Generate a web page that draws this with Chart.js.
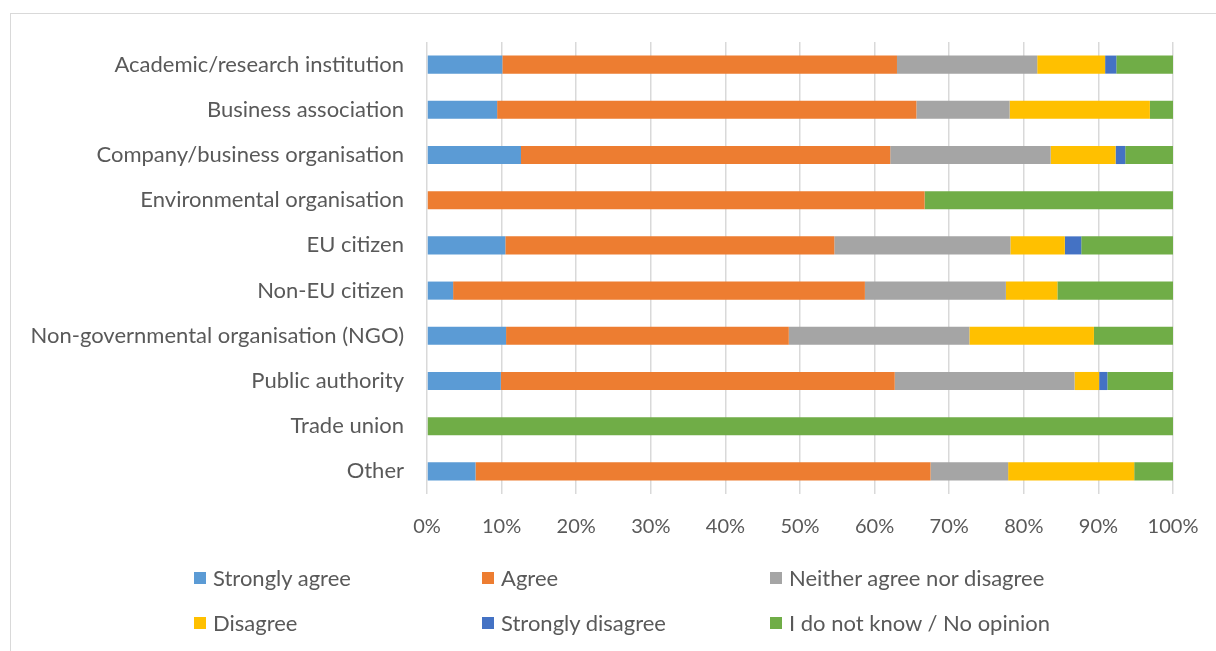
<!DOCTYPE html>
<html>
<head>
<meta charset="utf-8">
<script src="https://cdn.jsdelivr.net/npm/chart.js@4"></script>
<style>
  body { margin: 0; background: #fff; font-family: Lato, sans-serif; }
  #frame { position: absolute; left: 10px; top: 13px; width: 1220px; height: 700px; border: 1.5px solid #d9d9d9; }
  #wrap { position: absolute; left: 0; top: 0; width: 1216px; height: 651px; }
  #legend { position: absolute; left: 194px; top: 564px; width: 900px; }
  .item { position: absolute; display: flex; align-items: center; font-size: 22px; color: #595959; white-space: nowrap; }
  .box { width: 12px; height: 12px; margin-right: 7px; }
</style>
</head>
<body>
<div id="frame"></div>
<div id="wrap"><canvas id="myChart" width="1216" height="651"></canvas></div>
<div id="legend"></div>
<script>
var categories = ['Academic/research institution', 'Business association', 'Company/business organisation',
    'Environmental organisation', 'EU citizen', 'Non-EU citizen', 'Non-governmental organisation (NGO)',
    'Public authority', 'Trade union', 'Other'];

// shares in %, one value per category
var stronglyAgree    = [10.1,  9.4, 12.6,  0.0, 10.5,  3.5, 10.6,  9.9, 0,  6.5];
var agree            = [52.9, 56.2, 49.5, 66.7, 44.1, 55.2, 37.9, 52.8, 0, 61.0];
var neither          = [18.8, 12.5, 21.5,  0.0, 23.6, 18.9, 24.2, 24.1, 0, 10.4];
var disagree         = [ 9.1, 18.8,  8.7,  0.0,  7.3,  6.9, 16.7,  3.3, 0, 16.9];
var stronglyDisagree = [ 1.5,  0.0,  1.3,  0.0,  2.2,  0.0,  0.0,  1.1, 0,  0.0];
var noOpinion        = [ 7.6,  3.1,  6.4, 33.3, 12.3, 15.5, 10.6,  8.8, 100, 5.2];

var seriesNames = ['Strongly agree', 'Agree', 'Neither agree nor disagree', 'Disagree', 'Strongly disagree', 'I do not know / No opinion'];
var seriesColors = ['#5B9BD5', '#ED7D31', '#A5A5A5', '#FFC000', '#4472C4', '#70AD47'];
var seriesData = [stronglyAgree, agree, neither, disagree, stronglyDisagree, noOpinion];

var datasets = [];
for (var i = 0; i < seriesNames.length; i++) {
    datasets.push({
        label: seriesNames[i],
        data: seriesData[i],
        backgroundColor: seriesColors[i],
        borderWidth: 0,
        categoryPercentage: 1,
        barPercentage: 0.4
    });
}

var ctx = document.getElementById('myChart').getContext('2d');
var myChart = new Chart(ctx, {
    type: 'bar',
    data: { labels: categories, datasets: datasets },
    options: {
        indexAxis: 'y',
        responsive: false,
        animation: false,
        layout: { padding: { left: 10, top: 42, right: 43, bottom: 107 } },
        plugins: { legend: { display: false }, tooltip: { enabled: false } },
        scales: {
            x: {
                stacked: true,
                min: 0,
                max: 100,
                border: { display: false },
                grid: { color: '#d9d9d9', lineWidth: 1.5, drawTicks: false },
                ticks: {
                    stepSize: 10,
                    padding: 21,
                    color: '#595959',
                    font: { family: 'Lato', size: 20 },
                    callback: function (v) { return v + '%'; }
                },
                afterFit: function (scale) {
                    scale.height = 50;
                    scale.paddingLeft = 0;
                    scale.paddingRight = 0;
                }
            },
            y: {
                stacked: true,
                border: { display: false },
                grid: { display: false, drawTicks: false },
                ticks: {
                    padding: 23,
                    color: '#595959',
                    font: { family: 'Lato', size: 22 }
                },
                afterFit: function (scale) { scale.width = 417; }
            }
        }
    }
});

// legend in three columns like the original
var legend = document.getElementById('legend');
for (var j = 0; j < seriesNames.length; j++) {
    var item = document.createElement('div');
    item.className = 'item';
    item.style.left = (j % 3) * 288 + 'px';
    item.style.top = Math.floor(j / 3) * 45 + 'px';
    item.innerHTML = '<span class="box" style="background:' + seriesColors[j] + '"></span>' + seriesNames[j];
    legend.appendChild(item);
}
</script>
</body>
</html>
